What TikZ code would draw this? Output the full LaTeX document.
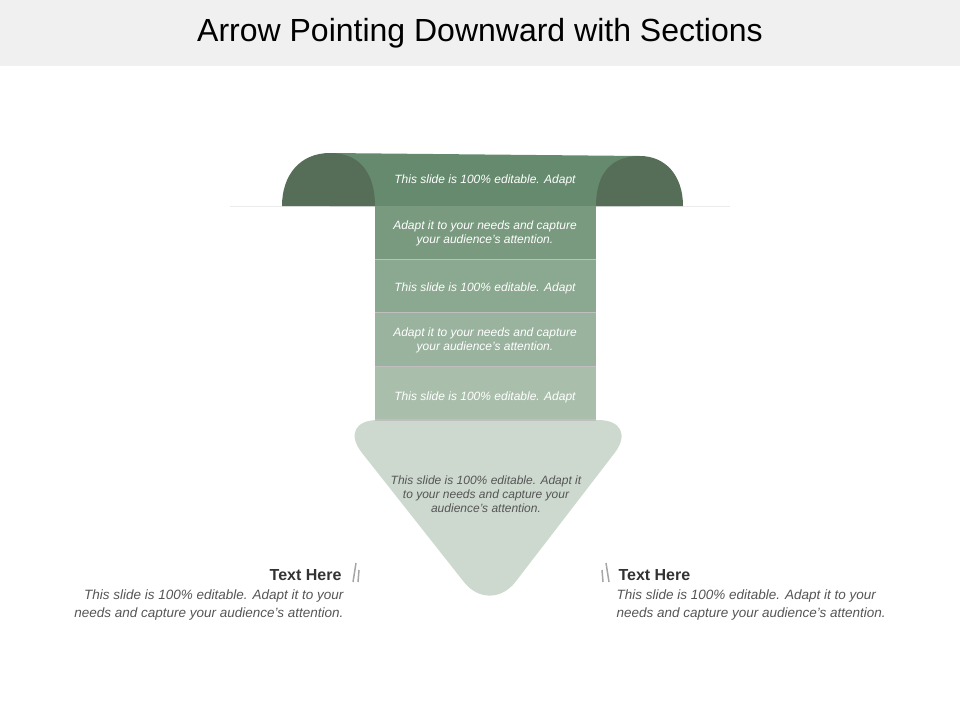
\documentclass[tikz,border=0pt]{standalone}
\usepackage{fontspec}
\setmainfont{Liberation Sans}
\definecolor{capdark}{HTML}{566E58}
\definecolor{band}{HTML}{668A6E}
\definecolor{secA}{HTML}{7A9A80}
\definecolor{secB}{HTML}{8BA890}
\definecolor{secC}{HTML}{9AB39E}
\definecolor{secD}{HTML}{A9BFAC}
\definecolor{headfill}{HTML}{CDD9CF}
\definecolor{bodygray}{HTML}{555555}
\tikzset{
  sectxt/.style={text=white, font=\fontsize{12}{14}\selectfont\itshape, align=center},
  headtxt/.style={text=bodygray, font=\fontsize{12}{14}\selectfont\itshape, align=center},
  sidehead/.style={text=black!80, font=\fontsize{16}{18}\selectfont\bfseries},
  sidebody/.style={text=bodygray, font=\fontsize{13.5}{18}\selectfont\itshape}
}
\begin{document}
\begin{tikzpicture}[x=1pt,y=-1pt]
  \useasboundingbox (0,0) rectangle (960,720);
  % title band
  \fill[black!6] (0,0) rectangle (960,66);
  \node (title) at (480,33) {\fontsize{32}{36}\selectfont Arrow Pointing Downward with Sections};
  \draw[black!8, line width=1pt] (230,206) -- (730,206);
  % top band and caps
  \fill[band] (330,153) -- (640,156) -- (640,206) -- (330,206) -- cycle;
  \fill[capdark] (282,206) .. controls (282,175) and (300,153) .. (330,153)
    .. controls (365,153) and (375,180) .. (375,206) -- cycle;
  \fill[capdark] (596,206) .. controls (596,180) and (606,156) .. (640,156)
    .. controls (665,156) and (683,175) .. (683,206) -- cycle;
  \node[sectxt] (s0) at (485,180) {This slide is 100\% editable. Adapt};
  % arrow head
  \fill[headfill, rounded corners=42] (336,420) -- (640,420) -- (490,615) -- cycle;
  \node[headtxt] (head) at (486,494) {This slide is 100\% editable. Adapt it\\to your needs and capture your\\audience's attention.};
  % sections
  \foreach \top/\bot/\col/\name in {206/260/secA/s1, 260/313/secB/s2, 313/367/secC/s3, 367/420/secD/s4}{
    \fill[\col] (375,\top) rectangle (596,\bot);
    \draw[black!25, line width=1.2pt] (375,\bot) -- (596,\bot);
  }
  \node[sectxt] (s1) at (485,233) {Adapt it to your needs and capture\\your audience's attention.};
  \node[sectxt] (s2) at (485,288) {This slide is 100\% editable. Adapt};
  \node[sectxt] (s3) at (485,340) {Adapt it to your needs and capture\\your audience's attention.};
  \node[sectxt] (s4) at (485,397) {This slide is 100\% editable. Adapt};
  % side texts
  \node[sidehead, anchor=east] (lhead) at (345,575) {Text Here};
  \node[sidebody, anchor=north east, align=right] (lbody) at (347,586) {This slide is 100\% editable.  Adapt it to your\\needs and capture your audience's attention.};
  \node[sidehead, anchor=west] (rhead) at (615,575) {Text Here};
  \node[sidebody, anchor=north west, align=left] (rbody) at (613,586) {This slide is 100\% editable.  Adapt it to your\\needs and capture your audience's attention.};
  % slash marks
  \draw[black!35, line width=1.5pt] (353,582) -- (356,563) (358,582) -- (359,570);
  \draw[black!35, line width=1.5pt] (602,570) -- (603,582) (606,563) -- (609,582);
\end{tikzpicture}
\end{document}
